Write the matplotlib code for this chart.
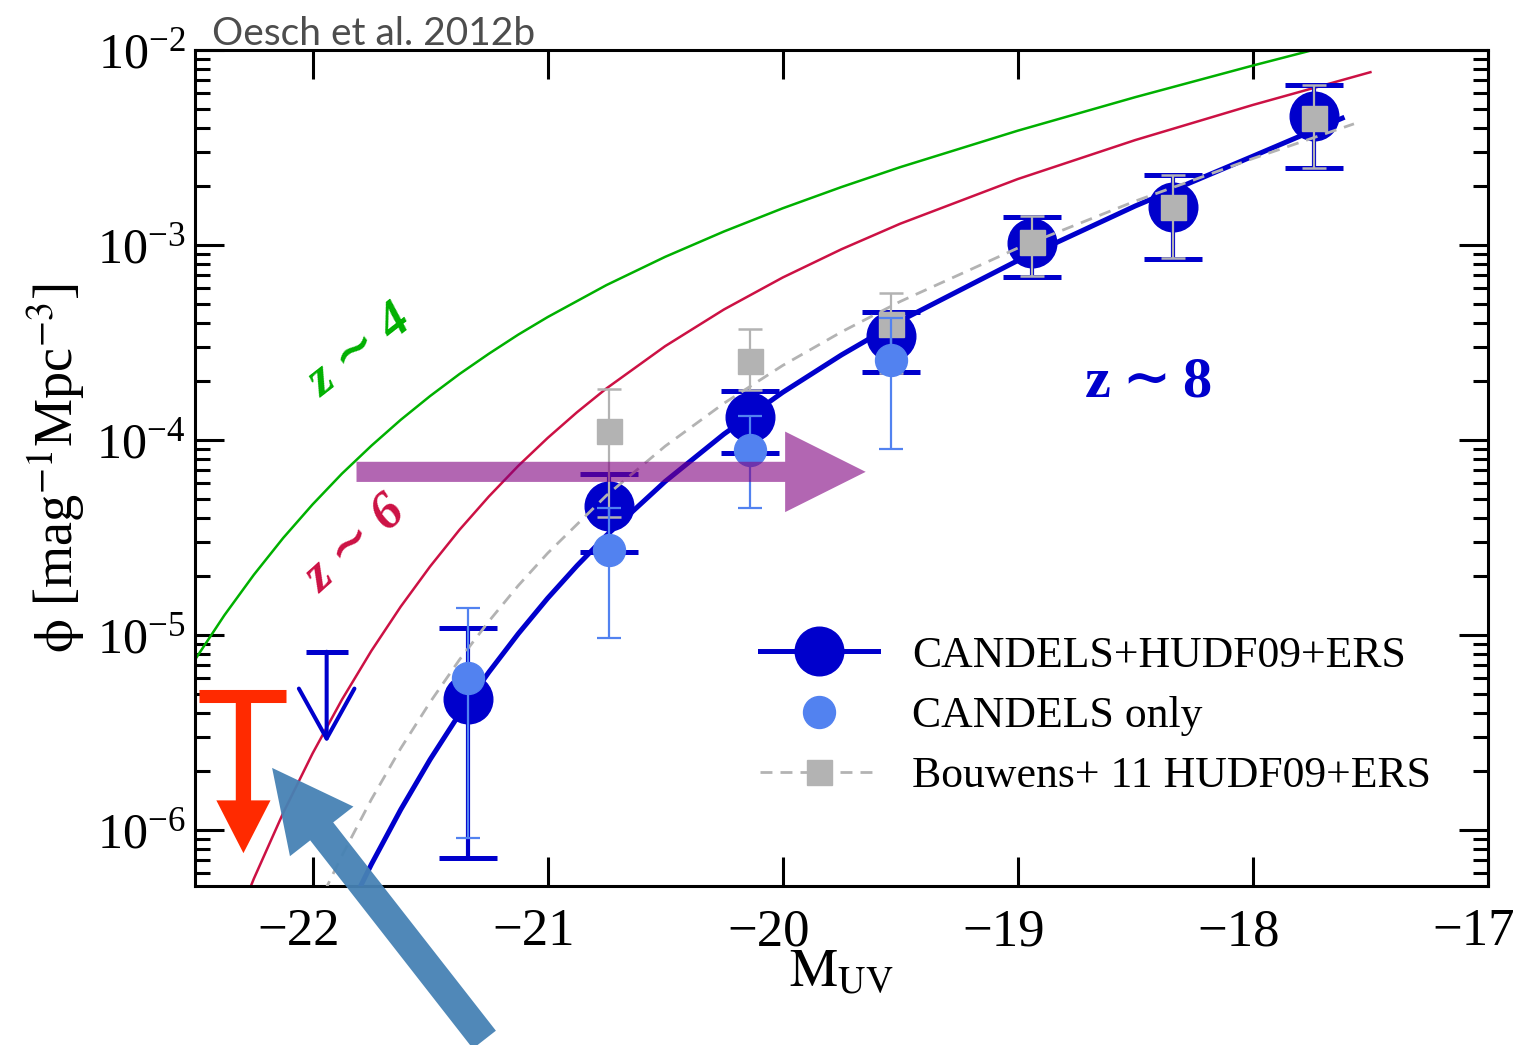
import matplotlib
matplotlib.use("Agg")
import matplotlib.pyplot as plt
import matplotlib.transforms as mtransforms
from matplotlib.lines import Line2D
from matplotlib.ticker import LogLocator, NullFormatter

plt.rcParams["font.family"] = ["Liberation Serif", "DejaVu Serif"]
plt.rcParams["mathtext.fontset"] = "stix"

# %%
# z~8 step-wise LF, CANDELS+HUDF09+ERS
M_bins = [-21.34, -20.74, -20.14, -19.54, -18.94, -18.34, -17.74]
phi_all = [4.7e-6, 4.6e-5, 1.31e-4, 3.41e-4, 1.02e-3, 1.57e-3, 4.6e-3]
phi_all_hi = [1.09e-5, 6.7e-5, 1.78e-4, 4.53e-4, 1.39e-3, 2.29e-3, 6.6e-3]
phi_all_lo = [7.2e-7, 2.67e-5, 8.6e-5, 2.23e-4, 6.86e-4, 8.5e-4, 2.48e-3]

# upper limit in brightest bin
M_lim = -21.94
phi_lim = 8.2e-6
phi_lim_end = 2.8e-6

# CANDELS only
M_candels = [-21.34, -20.74, -20.14, -19.54]
phi_candels = [6.0e-6, 2.73e-5, 8.9e-5, 2.57e-4]
phi_candels_hi = [1.37e-5, 4.48e-5, 1.33e-4, 4.23e-4]
phi_candels_lo = [9.1e-7, 9.6e-6, 4.5e-5, 9.0e-5]

# Bouwens+11 HUDF09+ERS
M_b11 = [-20.74, -20.14, -19.54, -18.94, -18.34, -17.74]
phi_b11 = [1.11e-4, 2.54e-4, 3.94e-4, 1.03e-3, 1.57e-3, 4.5e-3]
phi_b11_hi = [1.83e-4, 3.71e-4, 5.67e-4, 1.40e-3, 2.29e-3, 6.6e-3]
phi_b11_lo = [4.03e-5, 1.8e-4, 2.2e-4, 6.9e-4, 8.6e-4, 2.49e-3]

# fitted LF curves (log10 phi)
M_fit8 = [-21.85, -21.75, -21.625, -21.5, -21.375, -21.25, -21.125, -21.0,
          -20.875, -20.75, -20.5, -20.25, -20.0, -19.75, -19.5, -19.0, -18.5,
          -18.0, -17.62]
logphi_fit8 = [-6.421, -6.177, -5.896, -5.639, -5.405, -5.191, -4.994, -4.812,
               -4.645, -4.490, -4.213, -3.970, -3.756, -3.564, -3.389, -3.080,
               -2.800, -2.545, -2.350]

M_fitb11 = [-21.95, -21.875, -21.75, -21.625, -21.5, -21.375, -21.25, -21.125,
            -21.0, -20.75, -20.5, -20.25, -20.0, -19.75, -19.5, -19.0, -18.5,
            -18.0, -17.57]
logphi_fitb11 = [-6.318, -6.132, -5.844, -5.582, -5.345, -5.127, -4.930, -4.747,
                 -4.581, -4.285, -4.032, -3.812, -3.618, -3.446, -3.290, -3.016,
                 -2.775, -2.557, -2.379]

M_z4 = [-22.5, -22.375, -22.25, -22.125, -22.0, -21.875, -21.75, -21.625, -21.5,
        -21.375, -21.25, -21.125, -21.0, -20.75, -20.5, -20.25, -20.0, -19.75,
        -19.5, -19.0, -18.5, -18.0, -17.5]
logphi_z4 = [-5.127, -4.899, -4.692, -4.503, -4.331, -4.173, -4.030, -3.897,
             -3.775, -3.662, -3.558, -3.460, -3.370, -3.206, -3.061, -2.931,
             -2.812, -2.703, -2.601, -2.414, -2.242, -2.080, -1.924]

M_z6 = [-22.375, -22.25, -22.125, -22.0, -21.875, -21.75, -21.625, -21.5,
        -21.375, -21.25, -21.125, -21.0, -20.875, -20.75, -20.5, -20.25, -20.0,
        -19.75, -19.5, -19.0, -18.5, -18.0, -17.5]
logphi_z6 = [-6.625, -6.251, -5.913, -5.608, -5.332, -5.082, -4.855, -4.649,
             -4.461, -4.290, -4.133, -3.990, -3.858, -3.736, -3.519, -3.331,
             -3.167, -3.022, -2.891, -2.662, -2.462, -2.282, -2.114]

DARK = "#0000CC"
LIGHT = "#5282F0"
GRAY = "#B3B3B3"
GREEN = "#00B000"
CRIMSON = "#CC1144"
RED = "#FF2A00"
DASH = (0, (4.3, 2.9))


def yerr(phi, lo, hi):
    return [[p - l for p, l in zip(phi, lo)], [h - p for p, h in zip(phi, hi)]]


def unlog(vals):
    return [10 ** v for v in vals]


fig = plt.figure(figsize=(15.14, 10.45), dpi=100)
ax = fig.add_axes([0.1288, 0.1522, 0.8540, 0.8000])

ax.plot(M_z4, unlog(logphi_z4), color=GREEN, lw=1.8, zorder=2)
ax.plot(M_z6, unlog(logphi_z6), color=CRIMSON, lw=1.8, zorder=2)

ax.plot(M_fit8, unlog(logphi_fit8), color=DARK, lw=3.6, zorder=3)
ax.errorbar(M_bins, phi_all, yerr=yerr(phi_all, phi_all_lo, phi_all_hi),
            fmt="o", ms=35, color=DARK, ecolor=DARK, elinewidth=3,
            capsize=21, capthick=3.6, zorder=4)

# upper limit
ax.plot([M_lim], [phi_lim], marker="_", ms=30, mew=3.6, color=DARK, zorder=4)
ax.annotate("", xy=(M_lim, phi_lim_end), xytext=(M_lim, phi_lim),
            arrowprops=dict(arrowstyle="->,head_length=3.6,head_width=2.0",
                            mutation_scale=10, color=DARK, lw=2.9,
                            shrinkA=0, shrinkB=0), zorder=4)

ax.plot(M_fitb11, unlog(logphi_fitb11), color=GRAY, lw=2, ls=DASH, zorder=5)
ax.errorbar(M_b11, phi_b11, yerr=yerr(phi_b11, phi_b11_lo, phi_b11_hi),
            fmt="s", ms=18, color=GRAY, ecolor=GRAY, elinewidth=1.6,
            capsize=8.3, capthick=1.8, zorder=6)

ax.errorbar(M_candels, phi_candels,
            yerr=yerr(phi_candels, phi_candels_lo, phi_candels_hi),
            fmt="o", ms=23, color=LIGHT, ecolor=LIGHT, elinewidth=1.6,
            capsize=8.5, capthick=1.6, zorder=7)

# overlaid annotation arrows
ax.annotate("", xy=(-19.647, 6.86e-5), xytext=(-21.813, 6.86e-5),
            arrowprops=dict(arrowstyle="simple,head_length=5.8,head_width=5.8,tail_width=1.45",
                            mutation_scale=10, color="purple", alpha=0.6, lw=0,
                            shrinkA=0, shrinkB=0), zorder=9)

ax.plot([-22.485, -22.115], [4.87e-6, 4.87e-6], color=RED, lw=9.4,
        solid_capstyle="butt", zorder=9)
ax.annotate("", xy=(-22.294, 7.6e-7), xytext=(-22.294, 4.87e-6),
            arrowprops=dict(arrowstyle="simple,head_length=3.8,head_width=3.9,tail_width=1.1",
                            mutation_scale=10, color=RED, lw=0,
                            shrinkA=0, shrinkB=0), zorder=9)

ax.annotate("", xy=(-22.172, 2.08e-6), xytext=(-21.269, 8.4e-8),
            annotation_clip=False,
            arrowprops=dict(arrowstyle="simple,head_length=5.8,head_width=5.8,tail_width=2.1",
                            mutation_scale=10, color="#4682B4", alpha=0.95, lw=0,
                            shrinkA=0, shrinkB=0, clip_on=False), zorder=10)

ax.text(-21.80, 2.85e-4, "z \u223c 4", color=GREEN, fontsize=38, fontweight="bold",
        fontstyle="italic", rotation=38, ha="center", va="center")
ax.text(-21.82, 2.9e-5, "z \u223c 6", color=CRIMSON, fontsize=38, fontweight="bold",
        fontstyle="italic", rotation=42, ha="center", va="center")
ax.text(-18.444, 1.96e-4, "z\u2009\u223c\u20098", color=DARK, fontsize=42,
        fontweight="bold", ha="center", va="center")

ax.set_yscale("log")
ax.set_xlim(-22.5, -17)
ax.set_ylim(5.16e-7, 1e-2)
ax.set_xticks([-22, -21, -20, -19, -18, -17])
ax.yaxis.set_major_locator(LogLocator(base=10, numticks=10))
ax.yaxis.set_minor_locator(LogLocator(base=10, subs=range(2, 10), numticks=20))
ax.yaxis.set_minor_formatter(NullFormatter())

ax.tick_params(which="both", direction="in", top=True, right=True, width=2.2)
ax.tick_params(which="major", length=21)
ax.tick_params(axis="x", which="major", labelsize=38, pad=16)
ax.tick_params(axis="y", which="major", labelsize=36, pad=7)
ax.tick_params(which="minor", length=11)
for sp in ax.spines.values():
    sp.set_linewidth(2.2)

# x tick labels sit a little left of their ticks in the original
shift = mtransforms.ScaledTranslation(-0.14, 0, fig.dpi_scale_trans)
for lab in ax.get_xticklabels():
    lab.set_transform(lab.get_transform() + shift)

ax.set_xlabel(r"$\mathrm{M}_{\mathrm{UV}}$", fontsize=39, labelpad=-6)
ax.set_ylabel(r"$\mathrm{\phi}$ [mag$^{-1}$Mpc$^{-3}$]", fontsize=39, labelpad=6)

h1 = Line2D([], [], color=DARK, lw=3.6, marker="o", ms=35)
h2 = Line2D([], [], ls="none", color=LIGHT, marker="o", ms=23)
h3 = Line2D([], [], color=GRAY, lw=2, ls=DASH, marker="s", ms=18)
ax.legend([h1, h2, h3],
          ["CANDELS+HUDF09+ERS", "CANDELS only", "Bouwens+ 11 HUDF09+ERS"],
          loc="center left", bbox_to_anchor=(0.437, 0.2035), frameon=False,
          fontsize=31.5, handlelength=2.7, handletextpad=0.78, labelspacing=0.46,
          borderpad=0, borderaxespad=0, numpoints=1)

fig.text(212 / 1514, 1 - 45 / 1045, "Oesch et al. 2012b", family="Lato",
         color="#4D4D4D", fontsize=28, va="baseline", ha="left")

fig.savefig("out.png", dpi=100)
